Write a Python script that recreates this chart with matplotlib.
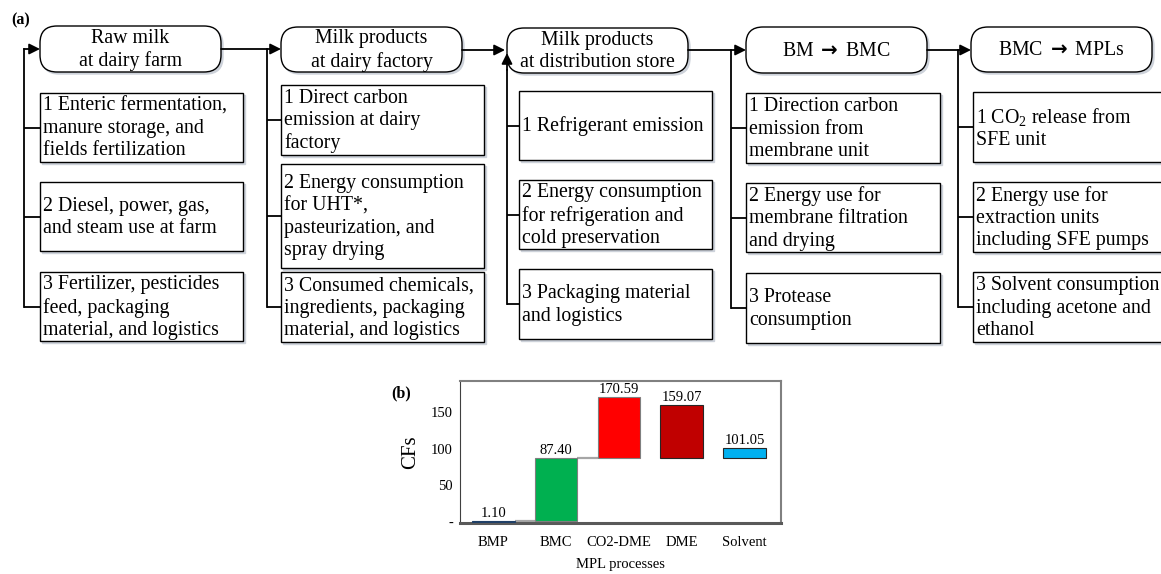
import numpy as np
import matplotlib
matplotlib.use("Agg")
import matplotlib.pyplot as plt
from matplotlib.patches import FancyBboxPatch, Rectangle

plt.rcParams["font.family"] = ["Liberation Serif", "DejaVu Serif"]
plt.rcParams["mathtext.fontset"] = "custom"
plt.rcParams["mathtext.rm"] = "Liberation Serif"
plt.rcParams["mathtext.it"] = "Liberation Serif:italic"

# ---------------------------------------------------------------- data
stage_titles = [
    "Raw milk\nat dairy farm",
    "Milk products\nat dairy factory",
    "Milk products\nat distribution store",
    r"BM $\mathbf{\rightarrow}$ BMC",
    r"BMC $\mathbf{\rightarrow}$ MPLs",
]
farm_sources = [
    "1 Enteric fermentation,\nmanure storage, and\nfields fertilization",
    "2 Diesel, power, gas,\nand steam use at farm",
    "3 Fertilizer, pesticides\nfeed, packaging\nmaterial, and logistics",
]
factory_sources = [
    "1 Direct carbon\nemission at dairy\nfactory",
    "2 Energy consumption\nfor UHT*,\npasteurization, and\nspray drying",
    "3 Consumed chemicals,\ningredients, packaging\nmaterial, and logistics",
]
store_sources = [
    "1 Refrigerant emission",
    "2 Energy consumption\nfor refrigeration and\ncold preservation",
    "3 Packaging material\nand logistics",
]
bmc_sources = [
    "1 Direction carbon\nemission from\nmembrane unit",
    "2 Energy use for\nmembrane filtration\nand drying",
    "3 Protease\nconsumption",
]
mpl_sources = [
    "1 CO$_2$ release from\nSFE unit",
    "2 Energy use for\nextraction units\nincluding SFE pumps",
    "3 Solvent consumption\nincluding acetone and\nethanol",
]
stage_sources = [farm_sources, factory_sources, store_sources, bmc_sources, mpl_sources]

categories = ["BMP", "BMC", "CO2-DME", "DME", "Solvent"]
cf_values = [1.10, 87.40, 170.59, 159.07, 101.05]
builds_on = [None, 0, 1, 1, 1]          # index of the step each bar starts from
bar_colors = ["#2e75b6", "#00b050", "#ff0000", "#c00000", "#00b0f0"]
bar_edges = ["#1f3f66", "#7f7f7f", "#7f7f7f", "#262626", "#262626"]
ytick_values = [0, 50, 100, 150]
ytick_labels = ["-", "50", "100", "150"]

# ---------------------------------------------------------------- layout (pixels)
W, H = 1161, 574
TITLE_X = [(40, 221), (281, 462), (507, 688), (746, 927), (971, 1152)]
TITLE_Y = [(26, 72), (27, 72), (28, 73), (27, 73), (27, 72)]
BOX_X = [(40, 243), (281, 484), (519, 712), (746, 940), (973, 1185)]
BOX_Y = [
    [(93, 162), (182, 251), (272, 341)],
    [(85, 155), (164, 268), (272, 342)],
    [(91, 160), (180, 249), (269, 339)],
    [(93, 163), (183, 252), (273, 343)],
    [(92, 162), (182, 252), (272, 342)],
]
BUS_X = [24, 267, 507, 731, 958]
FLOW_Y = [49, 49, 50, 50, 50]

LINE_W = 1.3
SHADOW = "#cdd2da"
TXT = 14.3

fig = plt.figure(figsize=(W / 100, H / 100), dpi=100)
ax = fig.add_axes([0, 0, 1, 1])
ax.set_xlim(0, W)
ax.set_ylim(H, 0)
ax.axis("off")


def arrow(x0, y0, x1, y1):
    ax.annotate("", xy=(x1, y1), xytext=(x0, y0),
                arrowprops=dict(arrowstyle="-|>", mutation_scale=16, lw=LINE_W,
                                color="black", shrinkA=0, shrinkB=0), zorder=4)


for i, title in enumerate(stage_titles):
    tx0, tx1 = TITLE_X[i]
    ty0, ty1 = TITLE_Y[i]
    for off, fc, ec, z in [(2, SHADOW, SHADOW, 1), (0, "white", "black", 2)]:
        ax.add_patch(FancyBboxPatch((tx0 + off, ty0 + off), tx1 - tx0, ty1 - ty0,
                                    boxstyle="round,pad=0,rounding_size=17",
                                    fc=fc, ec=ec, lw=1.0, zorder=z))
    ax.text((tx0 + tx1) / 2, (ty0 + ty1) / 2 + 1, title, ha="center", va="center",
            fontsize=TXT, linespacing=1.22, zorder=5)

    bx0, bx1 = BOX_X[i]
    mids = []
    for (by0, by1), label in zip(BOX_Y[i], stage_sources[i]):
        ax.add_patch(Rectangle((bx0 + 2, by0 + 2), bx1 - bx0, by1 - by0,
                               fc=SHADOW, ec=SHADOW, lw=1.0, zorder=1))
        ax.add_patch(Rectangle((bx0, by0), bx1 - bx0, by1 - by0,
                               fc="white", ec="black", lw=1.0, zorder=2))
        ax.text(bx0 + 3, (by0 + by1) / 2 + 1, label, ha="left", va="center",
                fontsize=TXT, linespacing=1.24, zorder=5)
        mid = (by0 + by1) / 2
        mids.append(mid)
        ax.plot([BUS_X[i], bx0], [mid, mid], color="black", lw=LINE_W, zorder=3,
                solid_capstyle="butt")

    fy = FLOW_Y[i]
    if i == 2:
        # feeder line rises straight into the rounded box
        ax.plot([BUS_X[i], BUS_X[i]], [mids[-1], 70], color="black", lw=LINE_W, zorder=3)
        arrow(BUS_X[i], 70, BUS_X[i], 53)
    else:
        ax.plot([BUS_X[i], BUS_X[i]], [mids[-1], fy], color="black", lw=LINE_W, zorder=3)
    if i == 0:
        arrow(BUS_X[0], fy, tx0, fy)
    else:
        end = tx0 - 2 if i == 2 else tx0
        arrow(TITLE_X[i - 1][1], fy, end, fy)

ax.text(11, 20, "(a)", fontsize=11.5, fontweight="bold", ha="left", va="center")
ax.text(391, 393, "(b)", fontsize=11.5, fontweight="bold", ha="left", va="center")

# ---------------------------------------------------------------- panel (b): waterfall
axb = fig.add_axes([460 / W, 1 - 523 / H, (781 - 460) / W, (523 - 381) / H])
x = np.arange(len(categories))
bottoms = [0.0 if p is None else cf_values[p] for p in builds_on]
heights = [v - b for v, b in zip(cf_values, bottoms)]
bw = 0.68
axb.bar(x, heights, bottom=bottoms, width=bw, color=bar_colors,
        edgecolor=bar_edges, linewidth=0.8, zorder=3)

# connectors from a step to the bar that starts on it
for j, p in enumerate(builds_on):
    if p is not None and j == p + 1:
        axb.plot([x[p] + bw / 2, x[j] - bw / 2], [cf_values[p], cf_values[p]],
                 color="#a6a6a6", lw=1.6, zorder=2, solid_capstyle="butt")

for xi, v in zip(x, cf_values):
    axb.annotate(f"{v:.2f}", (xi, v), xytext=(0, 0.5), textcoords="offset points",
                 ha="center", va="bottom", fontsize=10.5, zorder=4)

axb.set_xlim(-0.53, 4.58)
axb.set_ylim(-1.5, 192)
axb.set_xticks(x)
axb.set_xticklabels(categories)
axb.set_yticks(ytick_values)
axb.set_yticklabels(ytick_labels)
axb.tick_params(axis="both", length=0, labelsize=10.5)
axb.tick_params(axis="x", pad=9)
axb.tick_params(axis="y", pad=5)
axb.set_ylabel("CFs", fontsize=15, labelpad=8)
axb.set_xlabel("MPL processes", fontsize=10.5, labelpad=7)
axb.spines["left"].set_color("#404040")
axb.spines["left"].set_linewidth(0.8)
for s in ("top", "right"):
    axb.spines[s].set_color("#808080")
    axb.spines[s].set_linewidth(1.5)
axb.spines["bottom"].set_color("#595959")
axb.spines["bottom"].set_linewidth(2.2)

fig.savefig("out.png", dpi=100)
